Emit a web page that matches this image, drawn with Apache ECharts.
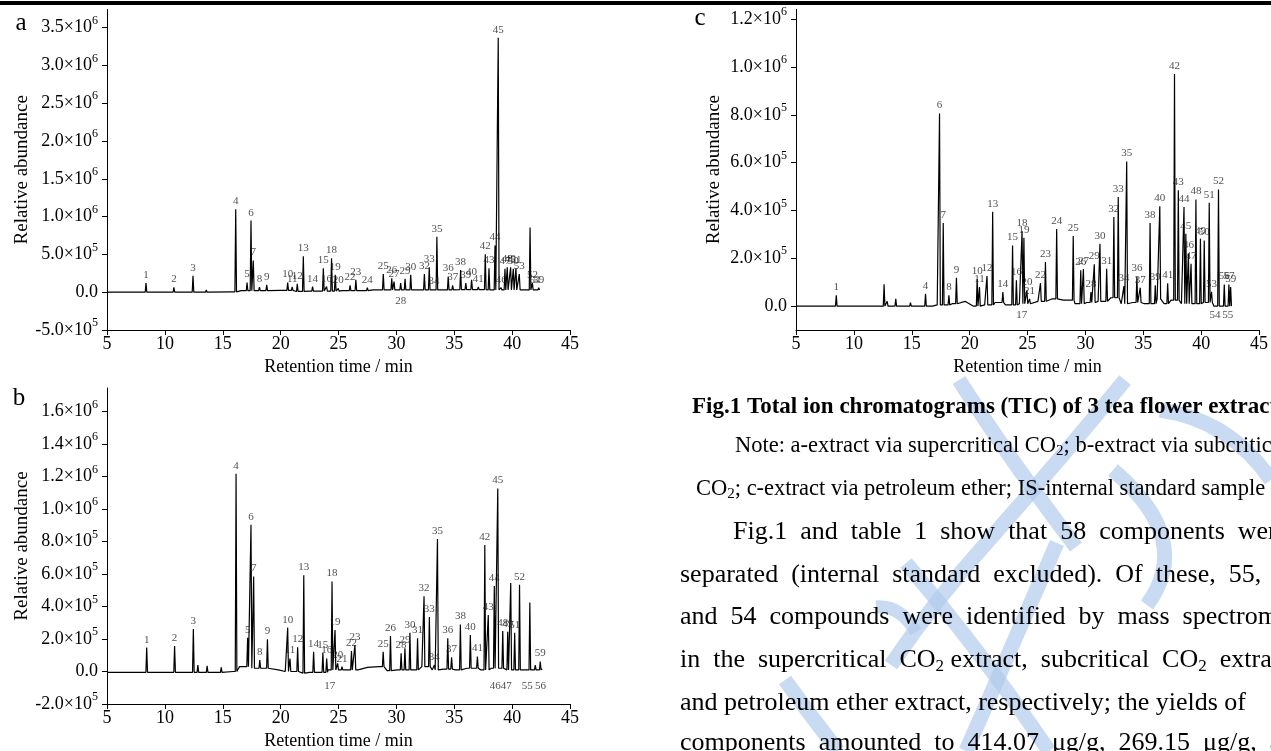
<!DOCTYPE html>
<html>
<head>
<meta charset="utf-8">
<script src="https://cdn.jsdelivr.net/npm/echarts@6/dist/echarts.min.js"></script>
<style>
  html, body { margin: 0; padding: 0; background: #fff; }
  #chart { width: 1271px; height: 751px; }
</style>
</head>
<body>
<div id="chart"></div>
<script>
// x ticks (min) and y tick values for the three panels
const xTicks = [5, 10, 15, 20, 25, 30, 35, 40, 45];
const aYTicks = [-5e5, 0, 5e5, 1e6, 1.5e6, 2e6, 2.5e6, 3e6, 3.5e6];
const bYTicks = [-2e5, 0, 2e5, 4e5, 6e5, 8e5, 1e6, 1.2e6, 1.4e6, 1.6e6];
const cYTicks = [0, 2e5, 4e5, 6e5, 8e5, 1e6, 1.2e6];

// a - supercritical CO2
const aPeakTime = [8.37, 10.78, 12.43, 13.58, 16.12, 17.10, 17.44, 17.64, 18.17, 18.80, 20.61, 21.00, 21.44, 21.96, 22.76, 23.69, 23.97, 24.40, 24.72, 24.98, 26.00, 26.50, 27.49, 28.87, 29.60, 29.80, 30.37, 30.75, 31.24, 32.42, 32.84, 33.24, 33.50, 34.48, 34.86, 35.55, 36.00, 36.50, 37.08, 37.68, 38.00, 38.52, 38.80, 39.05, 39.38, 39.58, 39.87, 40.10, 40.33, 40.62, 41.55, 41.75, 41.97, 42.30];
const aPeakHeight = [1.2e5, 6.5e4, 2.16e5, 3e4, 1.097e6, 1.28e5, 9.47e5, 4.2e5, 6.6e4, 9.7e4, 1.27e5, 7e4, 1.1e5, 4.76e5, 7.4e4, 3.17e5, 7.4e4, 4.5e5, 2.3e5, 5e4, 9e4, 1.63e5, 6e4, 2.42e5, 1.85e5, 1.4e5, 1.2e5, 1.76e5, 2.3e5, 2.4e5, 3.3e5, 4e4, 7.35e5, 2.07e5, 9e4, 2.95e5, 1.2e5, 1.63e5, 7e4, 5.03e5, 3.17e5, 6.17e5, 3.366e6, 6e4, 3.1e5, 3.3e5, 3.3e5, 3.1e5, 3.2e5, 2.4e5, 8.55e5, 1.2e5, 5e4, 6e4];
const aPeakLabel = ['1', '2', '3', '', '4', '5', '6', '7', '8', '9', '10', '11', '12', '13', '14', '15', '16', '18', '19', '20', '22', '23', '24', '25', '26', '27', '', '29', '30', '32', '33', '34', '35', '36', '37', '38', '39', '40', '41', '42', '43', '44', '45', '46', '47', '48', '49', '50', '51', '53', '', '52', '54', '59'];
const aBaseTime = [5, 15.8, 16.6, 20, 21.2, 22.5, 25.3, 28, 30, 32, 35, 37.85, 40, 42.4];
const aBaseValue = [0, 5e3, 2e4, 2.5e4, 1e4, 1.5e4, 2e4, 3e4, 3e4, 3e4, 3.5e4, 3e4, 3e4, 3e4];
const aBelowTime = [30.37];
const aBelowLabel = ['28'];

// b - subcritical CO2
const bPeakTime = [8.43, 10.84, 12.46, 12.85, 13.65, 14.87, 16.15, 17.15, 17.44, 17.67, 18.20, 18.86, 20.61, 20.81, 21.47, 22.00, 22.85, 23.65, 23.98, 24.44, 24.70, 24.93, 25.30, 26.12, 26.42, 28.86, 29.49, 30.41, 30.74, 31.17, 31.83, 32.39, 32.85, 33.28, 33.55, 34.44, 34.77, 35.53, 36.39, 37.00, 37.64, 37.94, 38.46, 38.76, 39.19, 39.62, 39.88, 40.22, 40.64, 41.53, 42.00, 42.43];
const bPeakHeight = [1.47e5, 1.57e5, 2.61e5, 4e4, 3.5e4, 2.5e4, 1.217e6, 2.08e5, 9.03e5, 5.85e5, 7e4, 1.98e5, 2.7e5, 8e4, 1.49e5, 5.93e5, 1.22e5, 1.16e5, 8e4, 5.54e5, 2.55e5, 5e4, 3e4, 1.26e5, 1.63e5, 1.22e5, 2.18e5, 1.12e5, 1.43e5, 2.38e5, 2.04e5, 4.63e5, 3.36e5, 4e4, 8.15e5, 2.04e5, 8.8e4, 2.89e5, 2.24e5, 9.2e4, 7.79e5, 3.47e5, 5.26e5, 1.127e6, 2.5e5, 2.45e5, 5.44e5, 2.38e5, 5.34e5, 4.24e5, 4e4, 6.1e4];
const bPeakLabel = ['1', '2', '3', '', '', '', '4', '5', '6', '7', '8', '9', '10', '11', '12', '13', '14', '15', '16', '18', '19', '20', '21', '22', '23', '25', '26', '28', '29', '30', '31', '32', '33', '34', '35', '36', '37', '38', '40', '41', '42', '43', '44', '45', '48', '49', '', '51', '52', '', '', '59'];
const bBaseTime = [5, 8, 15.9, 16.45, 17.2, 19, 19.8, 20.4, 21.7, 22.5, 24.1, 26.7, 27.5, 28.5, 29.2, 30.1, 32.2, 33.1, 34.1, 35.1, 36.1, 37.3, 38.2, 39.4, 41.1, 42.6];
const bBaseValue = [-5e3, -5e3, 0, 3e4, 2e4, 2.5e4, 1e4, 0, -1e4, -5e3, 1e4, 1e4, 2.5e4, 3e4, 5e3, 1e4, 3e4, 1e4, 1.5e4, 1e4, 2e4, 1e4, 2e4, 1e4, 1e4, 1.5e4];
const bBelowTime = [24.25, 38.55, 39.5, 41.3, 42.45];
const bBelowLabel = ['17', '46', '47', '55', '56'];

// c - petroleum ether
const cPeakTime = [8.48, 12.61, 12.88, 13.62, 14.89, 16.19, 17.40, 17.72, 18.21, 18.86, 20.65, 20.85, 21.50, 21.99, 22.87, 23.71, 24.04, 24.53, 24.69, 24.95, 25.18, 26.12, 26.55, 27.52, 28.95, 29.60, 29.83, 30.48, 30.77, 31.26, 31.84, 32.46, 32.84, 33.33, 33.57, 34.45, 34.74, 35.59, 36.04, 36.43, 37.11, 37.70, 38.03, 38.52, 38.68, 38.90, 39.13, 39.55, 39.94, 40.27, 40.70, 40.90, 41.50, 42.00, 42.40, 42.55];
const cPeakHeight = [4.5e4, 9.1e4, 2e4, 3e4, 1.5e4, 5.2e4, 8.06e5, 3.48e5, 4.5e4, 1.19e5, 1.13e5, 8e4, 1.26e5, 3.95e5, 5.9e4, 2.54e5, 1.08e5, 3.14e5, 2.86e5, 6.6e4, 3e4, 9.6e4, 1.84e5, 3.23e5, 2.93e5, 1.5e5, 1.55e5, 5.9e4, 1.75e5, 2.61e5, 1.56e5, 3.73e5, 4.57e5, 8.4e4, 6.05e5, 1.24e5, 7.7e4, 3.48e5, 8.7e4, 4.18e5, 9.6e4, 9.71e5, 4.85e5, 4.15e5, 3.03e5, 2.2e5, 1.77e5, 4.46e5, 2.82e5, 2.75e5, 4.32e5, 6e4, 4.88e5, 9e4, 9e4, 8e4];
const cPeakLabel = ['1', '', '', '', '', '4', '6', '7', '8', '9', '10', '11', '12', '13', '14', '15', '16', '18', '19', '20', '21', '22', '23', '24', '25', '26', '27', '28', '29', '30', '31', '32', '33', '34', '35', '36', '37', '38', '39', '40', '41', '42', '43', '44', '45', '46', '47', '48', '49', '50', '51', '53', '52', '56', '57', '59'];
const cBaseTime = [5, 16.8, 17.2, 18.5, 19.6, 20.3, 21.3, 22.2, 23.1, 24.3, 25.9, 27.1, 28.1, 29.1, 30.1, 31.1, 32.2, 33.1, 34.1, 35.1, 36.2, 36.8, 37.4, 38.3, 40.1, 41.1, 42.6];
const cBaseValue = [0, 0, 5e3, 1e4, 2e4, 0, 5e3, 1.5e4, 5e3, 1e4, 2e4, 3e4, 2.5e4, 1e4, 1.5e4, 2e4, 3.5e4, 1e4, 1.5e4, 1e4, 3e4, 1e4, 2.5e4, 1e4, 1.5e4, 0, 0];
const cBelowTime = [24.5, 41.2, 42.3];
const cBelowLabel = ['17', '54', '55'];

const SERIF = '"Liberation Serif", "Times New Roman", serif';

// peaks drawn as narrow triangles standing on the baseline
function buildTrace(baseT, baseV, peakT, peakH) {
  const w = 0.07;
  const baseAt = t => {
    let v = baseV[0];
    for (let i = 0; i < baseT.length; i++) if (baseT[i] <= t) v = baseV[i];
    return v;
  };
  const pts = [];
  baseT.forEach((t, i) => {
    if (!peakT.some(p => Math.abs(p - t) <= w)) pts.push([t, baseV[i]]);
  });
  peakT.forEach((t, i) => {
    const b = baseAt(t);
    pts.push([t - w, b], [t, peakH[i]], [t + w, b]);
  });
  pts.sort((p, q) => p[0] - q[0]);
  return pts;
}

function topLabels(peakT, peakH, peakL) {
  const out = [];
  peakT.forEach((t, i) => { if (peakL[i]) out.push({ name: peakL[i], value: [t, peakH[i]] }); });
  return out;
}

function sci(v) {
  if (v === 0) return '{m|0.0}';
  const e = Math.floor(Math.log10(Math.abs(v)) + 1e-9);
  const m = (v / Math.pow(10, e)).toFixed(1);
  return '{m|' + m + '×10}{s|' + e + '}';
}

function makeX(gi) {
  return {
    type: 'value', gridIndex: gi, min: xTicks[0], max: xTicks[xTicks.length - 1], interval: 5,
    name: 'Retention time / min', nameLocation: 'middle', nameGap: 28,
    nameTextStyle: { fontFamily: SERIF, fontSize: 18, color: '#000' },
    axisLine: { show: true, onZero: false, lineStyle: { color: '#000', width: 1 } },
    axisTick: { show: true, inside: false, length: 5, lineStyle: { color: '#000' } },
    axisLabel: { fontFamily: SERIF, fontSize: 18, color: '#000', margin: 5 },
    splitLine: { show: false }
  };
}

function makeY(gi, min, max, ticks) {
  return {
    type: 'value', gridIndex: gi, min: min, max: max,
    name: 'Relative abundance', nameLocation: 'middle', nameGap: 72, nameRotate: 90,
    nameTextStyle: { fontFamily: SERIF, fontSize: 19, color: '#000' },
    axisLine: { show: true, onZero: false, lineStyle: { color: '#000', width: 1 } },
    axisTick: { show: true, inside: false, length: 5, customValues: ticks, lineStyle: { color: '#000' } },
    axisLabel: {
      customValues: ticks, formatter: sci, margin: 9,
      rich: {
        m: { fontFamily: SERIF, fontSize: 18, color: '#000', lineHeight: 26 },
        s: { fontFamily: SERIF, fontSize: 12, color: '#000', verticalAlign: 'top' }
      }
    },
    splitLine: { show: false }
  };
}

function panelSeries(gi, baseT, baseV, peakT, peakH, peakL, belowT, belowL, belowGap) {
  return [
    {
      type: 'line', xAxisIndex: gi, yAxisIndex: gi, showSymbol: false, symbol: 'none',
      data: buildTrace(baseT, baseV, peakT, peakH),
      lineStyle: { color: '#000', width: 1.2 }, animation: false, z: 3
    },
    {
      type: 'scatter', xAxisIndex: gi, yAxisIndex: gi, symbolSize: 1,
      itemStyle: { color: 'rgba(0,0,0,0)' },
      data: topLabels(peakT, peakH, peakL),
      label: { show: true, position: 'top', distance: 2, formatter: '{b}', fontFamily: SERIF, fontSize: 11, color: '#222' },
      animation: false, z: 4
    },
    {
      type: 'scatter', xAxisIndex: gi, yAxisIndex: gi, symbolSize: 1,
      itemStyle: { color: 'rgba(0,0,0,0)' },
      data: belowT.map((t, i) => ({ name: belowL[i], value: [t, 0] })),
      label: { show: true, position: 'bottom', distance: belowGap, formatter: '{b}', fontFamily: SERIF, fontSize: 11, color: '#222' },
      animation: false, z: 4
    }
  ];
}

const blue = 'rgba(176, 204, 236, 0.7)';
function stroke(x1, y1, cx, cy, x2, y2, w) {
  return { type: 'bezierCurve', silent: true, z: -10,
    shape: { x1: x1, y1: y1, cpx1: cx, cpy1: cy, x2: x2, y2: y2 },
    style: { stroke: blue, lineWidth: w, fill: null, lineCap: 'butt' } };
}
function txt(x, y, text, size, extra) {
  return Object.assign({ type: 'text', z: 10, silent: true,
    style: Object.assign({ x: x, y: y, text: text, fontFamily: SERIF, fontSize: size, fill: '#000', textVerticalAlign: 'middle' }, extra || {}) });
}
const richSub = {
  t: { fontFamily: SERIF, fontSize: 22.5, lineHeight: 25, fill: '#000' },
  u: { fontFamily: SERIF, fontSize: 15, verticalAlign: 'bottom', fill: '#000' }
};
const richBody = {
  t: { fontFamily: SERIF, fontSize: 26, lineHeight: 30, fill: '#000' },
  u: { fontFamily: SERIF, fontSize: 17, verticalAlign: 'bottom', fill: '#000' }
};

const chart = echarts.init(document.getElementById('chart'), null, { renderer: 'canvas' });
chart.setOption({
  backgroundColor: '#fff',
  animation: false,
  grid: [
    { left: 107, top: 9.5, width: 463, height: 320.5 },
    { left: 107, top: 388, width: 463, height: 318 },
    { left: 796, top: 9.3, width: 464, height: 320.7 }
  ],
  xAxis: [makeX(0), makeX(1), makeX(2)],
  yAxis: [
    makeY(0, -5e5, 3.74e6, aYTicks),
    makeY(1, -2e5, 1.745e6, bYTicks),
    makeY(2, -1e5, 1.242e6, cYTicks)
  ],
  series: [].concat(
    panelSeries(0, aBaseTime, aBaseValue, aPeakTime, aPeakHeight, aPeakLabel, aBelowTime, aBelowLabel, 3),
    panelSeries(1, bBaseTime, bBaseValue, bPeakTime, bPeakHeight, bPeakLabel, bBelowTime, bBelowLabel, 9),
    panelSeries(2, cBaseTime, cBaseValue, cPeakTime, cPeakHeight, cPeakLabel, cBelowTime, cBelowLabel, 3)
  ),
  graphic: [
    { type: 'rect', silent: true, z: 10, shape: { x: 0, y: 1, width: 1271, height: 4 }, style: { fill: '#000' } },
    // faint watermark strokes
    stroke(1125, 380, 1060, 460, 989, 540, 15),
    stroke(989, 540, 935, 600, 891, 665, 15),
    stroke(959, 380, 1010, 460, 1076, 547, 15),
    stroke(1160, 410, 1230, 420, 1271, 480, 15),
    stroke(1113, 470, 1195, 540, 1147, 605, 15),
    stroke(906, 563, 980, 650, 1049, 751, 15),
    stroke(1057, 543, 1010, 650, 966, 751, 15),
    stroke(785, 680, 810, 715, 838, 751, 15),
    stroke(876, 607, 900, 605, 916, 632, 13),
    // panel letters
    txt(21, 23, 'a', 25, { textAlign: 'center' }),
    txt(19, 398, 'b', 25, { textAlign: 'center' }),
    txt(700, 18, 'c', 25, { textAlign: 'center' }),
    // caption and body text
    txt(692, 407, 'Fig.1 Total ion chromatograms (TIC) of 3 tea flower extracts', 23, { fontWeight: 'bold' }),
    txt(735, 446, '{t|Note: a-extract via supercritical CO}{u|2}{t|; b-extract via subcritical}', 22.5, { rich: richSub }),
    txt(696, 489, '{t|CO}{u|2}{t|; c-extract via petroleum ether; IS-internal standard sample}', 22.5, { rich: richSub }),
    txt(733, 532, 'Fig.1  and  table  1  show  that  58  components  were', 26),
    txt(680, 575, 'separated  (internal  standard  excluded).  Of  these,  55,  56', 26),
    txt(680, 617, 'and  54  compounds  were  identified  by  mass  spectrometry', 26),
    txt(680, 660, '{t|in  the  supercritical  CO}{u|2}{t| extract,  subcritical  CO}{u|2}{t|  extract}', 26, { rich: richBody }),
    txt(680, 703, 'and petroleum ether extract, respectively; the yields of', 26),
    txt(680, 743, 'components  amounted  to  414.07  μg/g,  269.15  μg/g,  and', 26)
  ]
});
</script>
</body>
</html>
